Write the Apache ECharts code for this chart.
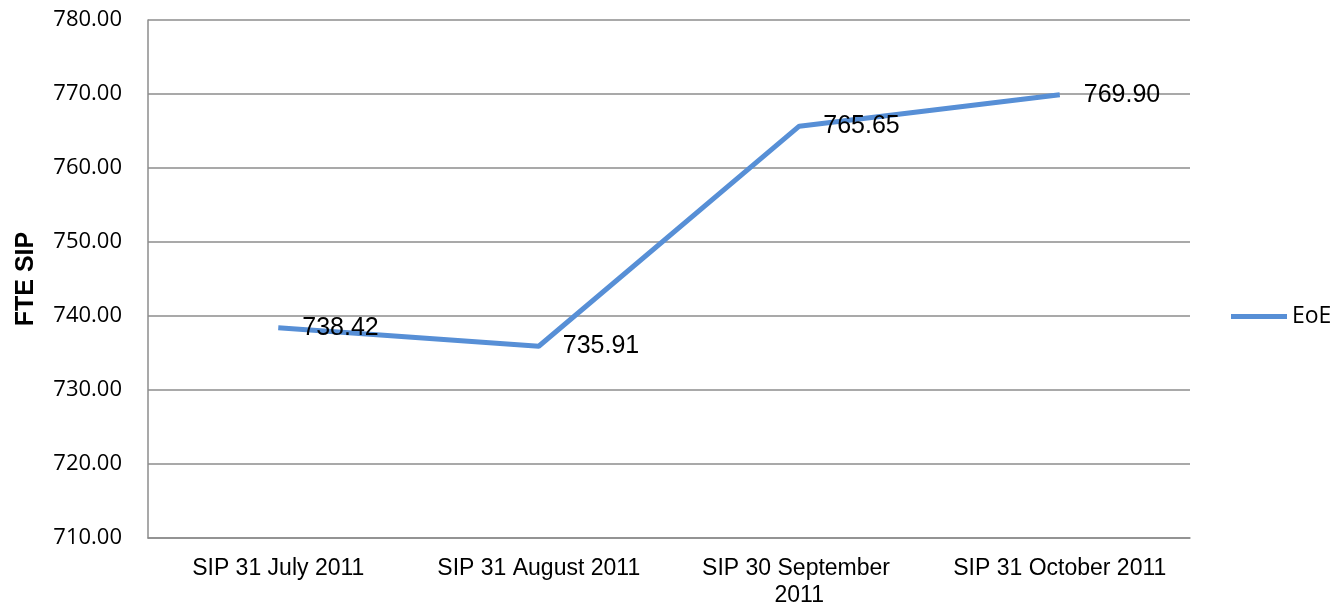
<!DOCTYPE html>
<html>
<head>
<meta charset="utf-8">
<script src="https://cdn.jsdelivr.net/npm/echarts@6/dist/echarts.min.js"></script>
<style>
  html, body { margin: 0; padding: 0; background: #fff; }
  #chart { width: 1333px; height: 613px; }
</style>
</head>
<body>
<div id="chart"></div>
<script>
// chart data
const categories = ['SIP 31 July 2011', 'SIP 31 August 2011', 'SIP 30 September 2011', 'SIP 31 October 2011']
const eoeValues = [738.42, 735.91, 765.65, 769.90]
const seriesName = 'EoE'
const yTitle = 'FTE SIP'

const myChart = echarts.init(document.getElementById('chart'))

const option = {
  animation: false,
  grid: {
    left: 148,
    right: 143,
    top: 20,
    bottom: 75
  },
  legend: {
    data: [seriesName],
    orient: 'vertical',
    left: 1226,
    top: 300,
    icon: 'rect',
    itemWidth: 56,
    itemHeight: 5,
    textStyle: {
      fontFamily: 'Open Sans',
      fontSize: 23,
      color: '#000'
    }
  },
  xAxis: {
    type: 'category',
    data: categories,
    boundaryGap: true,
    axisLine: { lineStyle: { color: '#8c8c8c', width: 1.5 } },
    axisTick: { show: false },
    axisLabel: {
      interval: 0,
      margin: 17,
      fontFamily: 'Liberation Sans, Arial',
      fontSize: 23,
      lineHeight: 27,
      color: '#000',
      width: 228,
      overflow: 'break'
    }
  },
  yAxis: {
    type: 'value',
    min: 710,
    max: 780,
    interval: 10,
    name: yTitle,
    nameLocation: 'middle',
    nameGap: 109,
    nameTextStyle: {
      fontFamily: 'Liberation Sans, Arial',
      fontSize: 25,
      fontWeight: 'bold',
      color: '#000'
    },
    axisLine: { show: true, lineStyle: { color: '#8c8c8c', width: 1.5 } },
    axisTick: { show: false },
    splitLine: { lineStyle: { color: '#8c8c8c', width: 1.5 } },
    axisLabel: {
      margin: 26,
      fontFamily: 'Open Sans',
      fontSize: 22,
      color: '#000',
      formatter: v => v.toFixed(2)
    }
  },
  series: [
    {
      name: seriesName,
      type: 'line',
      data: eoeValues,
      symbol: 'circle',
      symbolSize: 0,
      showSymbol: true,
      lineStyle: { color: '#578fd6', width: 5 },
      itemStyle: { color: '#578fd6' },
      label: {
        show: true,
        position: 'right',
        distance: 24,
        fontFamily: 'Liberation Sans, Arial',
        fontSize: 25,
        color: '#000',
        formatter: p => p.value.toFixed(2)
      }
    }
  ]
}

myChart.setOption(option)
</script>
</body>
</html>
